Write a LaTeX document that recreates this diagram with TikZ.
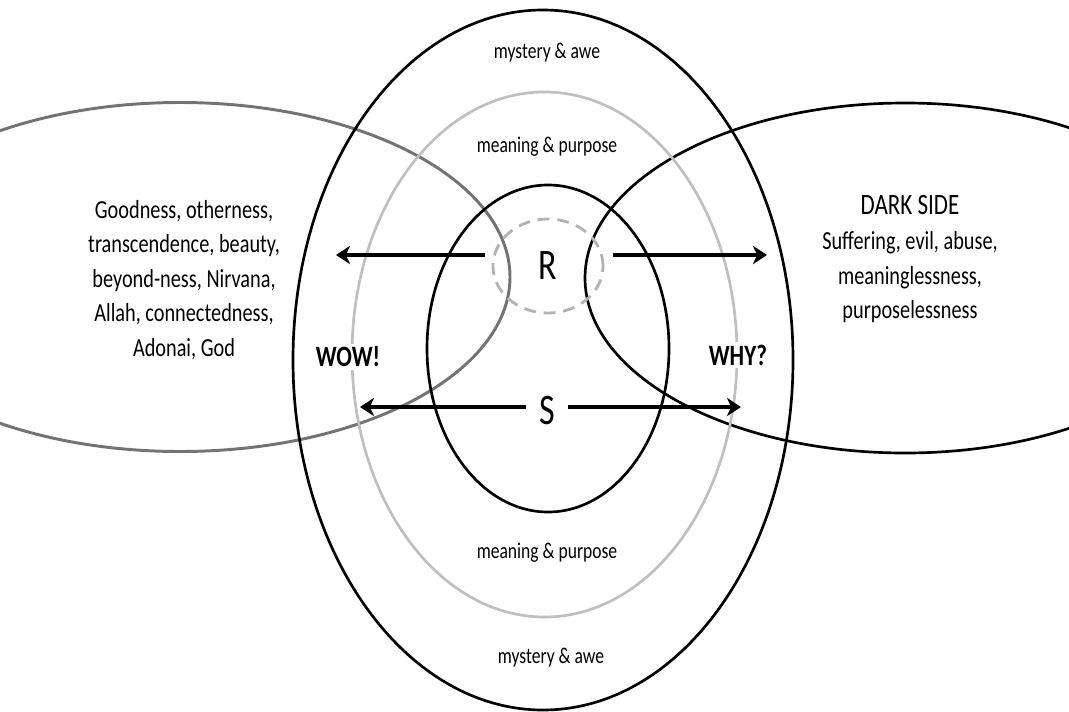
\documentclass[tikz,border=0pt]{standalone}
\usepackage{fontspec}
\setmainfont{Carlito}[FakeStretch=0.78]
\usepackage{tikz}
\usetikzlibrary{arrows.meta}
\usetikzlibrary{shapes.geometric}
\tikzset{
    ring/.style = {line width=1.9pt, draw=black},
    greyring/.style = {line width=1.9pt, draw=black!25},
    sidering/.style = {line width=2.1pt, draw=black!55},
    zone/.style = {align=center, inner sep=0pt, font=\fontsize{16}{19}\selectfont},
    side/.style = {align=center, inner sep=0pt, font=\fontsize{18.5}{24.5}\selectfont},
    cry/.style = {inner sep=2pt, fill=white, font=\bfseries\fontsize{21}{24}\selectfont},
    letter/.style = {inner sep=0pt, font=\fontsize{31}{34}\selectfont},
    rcircle/.style = {ellipse, draw=black!30, dash pattern=on 8.5pt off 5.5pt, line width=2pt, minimum width=2.75cm, minimum height=2.35cm},
    arr/.style = {line width=3pt, -{Stealth[length=10pt, width=13pt, inset=3pt]}}
}

\begin{document}
\begin{tikzpicture}[x=0.025cm, y=-0.025cm]
    \useasboundingbox (0,0) rectangle (1069,711);
    \clip (0,0) rectangle (1069,711);
    % the rings
    \draw [sidering] (180,277) ellipse [x radius=330, y radius=174.5];
    \draw [ring] (905,278) ellipse [x radius=320, y radius=175];
    \draw [ring] (543,360) ellipse [x radius=250, y radius=350];
    \draw [greyring] (544.5,354.5) ellipse [x radius=192.5, y radius=262.5];
    \draw [ring] (548,348.5) ellipse [x radius=121, y radius=163.5];

    \node [rcircle, letter] (R) at (548,266) {R};
    \node [letter, inner xsep=9pt] (S) at (547,410) {S};

    \node [zone] (awetop) at (547,53) {mystery \& awe};
    \node [zone] (meantop) at (547,147) {meaning \& purpose};
    \node [zone] (meanbot) at (547,553) {meaning \& purpose};
    \node [zone] (awebot) at (551,658) {mystery \& awe};

    \node [side] (good) at (184,280) {Goodness, otherness,\\ transcendence, beauty,\\ beyond-ness, Nirvana,\\ Allah, connectedness,\\ Adonai, God};
    \node [side, font=\fontsize{21}{24}\selectfont] (dark) at (910,205) {DARK SIDE};
    \node [side] (evil) at (910,277.5) {Suffering, evil, abuse,\\ meaninglessness,\\ purposelessness};

    \node [cry] (wow) at (348,357) {WOW!};
    \node [cry] (why) at (738,355) {WHY?};

    \coordinate (Rl) at (336,255);
    \coordinate (Rr) at (767,255);
    \coordinate (Sl) at (360,407);
    \coordinate (Sr) at (741,407);
    \draw [arr, shorten <=0.17cm] (R.west |- Rl) -- (Rl);
    \draw [arr, shorten <=0.22cm] (R.east |- Rr) -- (Rr);
    \draw [arr] (S.west |- Sl) -- (Sl);
    \draw [arr] (S.east |- Sr) -- (Sr);
\end{tikzpicture}
\end{document}
